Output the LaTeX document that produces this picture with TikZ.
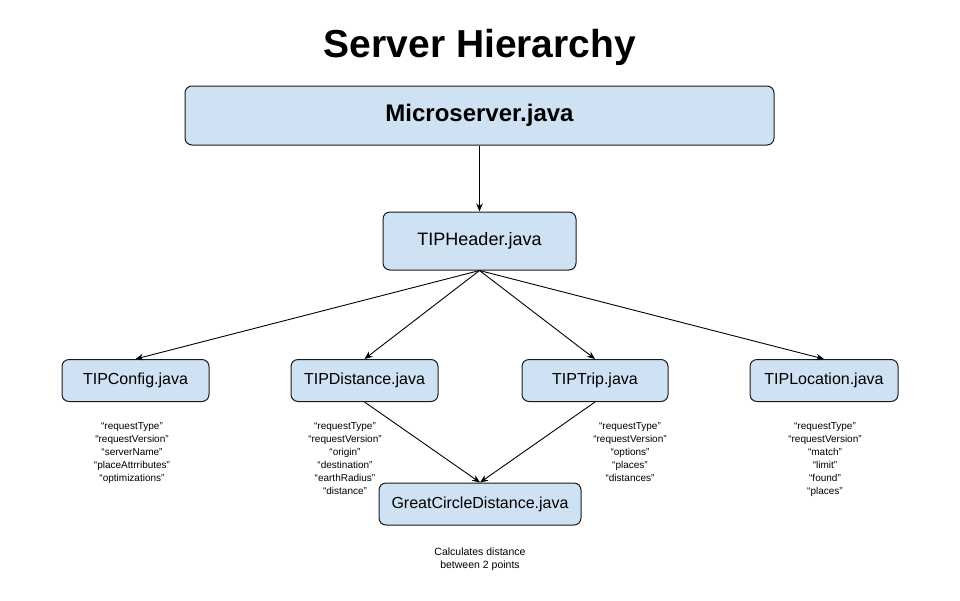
\documentclass[tikz,border=0pt]{standalone}
\usepackage{fontspec}
\setmainfont{Liberation Sans}
\usetikzlibrary{arrows.meta}
\definecolor{boxfill}{HTML}{CFE2F3}
\definecolor{boxline}{HTML}{1A1A1A}
\tikzset{
  javabox/.style={draw=boxline, fill=boxfill, line width=1pt, rounded corners=7pt, inner sep=0pt, align=center},
  conn/.style={draw=black, line width=0.9pt, -{Stealth[length=8pt,width=6.5pt]}},
  fieldlist/.style={inner sep=0pt, align=center, anchor=north, font=\fontsize{10}{13}\selectfont}
}
\begin{document}
\begin{tikzpicture}[x=1pt,y=-1pt]
\useasboundingbox[fill=white] (0,0) rectangle (960,600);
\node[anchor=base, font=\fontsize{39}{44}\selectfont\bfseries] (title) at (480,57) {Server Hierarchy};
\node[javabox, minimum width=589pt, minimum height=59pt, font=\fontsize{24}{28}\selectfont\bfseries] (micro) at (479.5,115.5) {Microserver.java};
\node[javabox, minimum width=193pt, minimum height=58pt, font=\fontsize{18}{22}\selectfont] (header) at (479.5,241) {TIPHeader.java};
\node[javabox, minimum width=147pt, minimum height=42pt, font=\fontsize{16}{20}\selectfont] (config) at (135.5,380.5) {TIPConfig.java};
\node[javabox, minimum width=147pt, minimum height=42pt, font=\fontsize{16}{20}\selectfont] (dist) at (364.5,380.5) {TIPDistance.java};
\node[javabox, minimum width=146pt, minimum height=42pt, font=\fontsize{16}{20}\selectfont] (trip) at (595,380.5) {TIPTrip.java};
\node[javabox, minimum width=148pt, minimum height=42pt, font=\fontsize{16}{20}\selectfont] (loc) at (824,380.5) {TIPLocation.java};
\node[javabox, minimum width=202pt, minimum height=42pt, font=\fontsize{16}{20}\selectfont] (gcd) at (480,504) {GreatCircleDistance.java};

\node[fieldlist] (configlist) at (132,422) {“requestType”\\“requestVersion”\\“serverName”\\“placeAttrributes”\\“optimizations”};
\node[fieldlist] (distlist) at (345,422) {“requestType”\\“requestVersion”\\“origin”\\“destination”\\“earthRadius”\\“distance”};
\node[fieldlist] (triplist) at (630,422) {“requestType”\\“requestVersion”\\“options”\\“places”\\“distances”};
\node[fieldlist] (loclist) at (825,422) {“requestType”\\“requestVersion”\\“match”\\“limit”\\“found”\\“places”};
\node[fieldlist, font=\fontsize{10.5}{13}\selectfont] (calc) at (480,548) {Calculates distance\\between 2 points};

\draw[conn] (micro.south) -- (header.north);
\draw[conn] (header.south) -- (config.north);
\draw[conn] (header.south) -- (dist.north);
\draw[conn] (header.south) -- (trip.north);
\draw[conn] (header.south) -- (loc.north);
\draw[conn] (dist.south) -- (gcd.north);
\draw[conn] (trip.south) -- (gcd.north);
\end{tikzpicture}
\end{document}
